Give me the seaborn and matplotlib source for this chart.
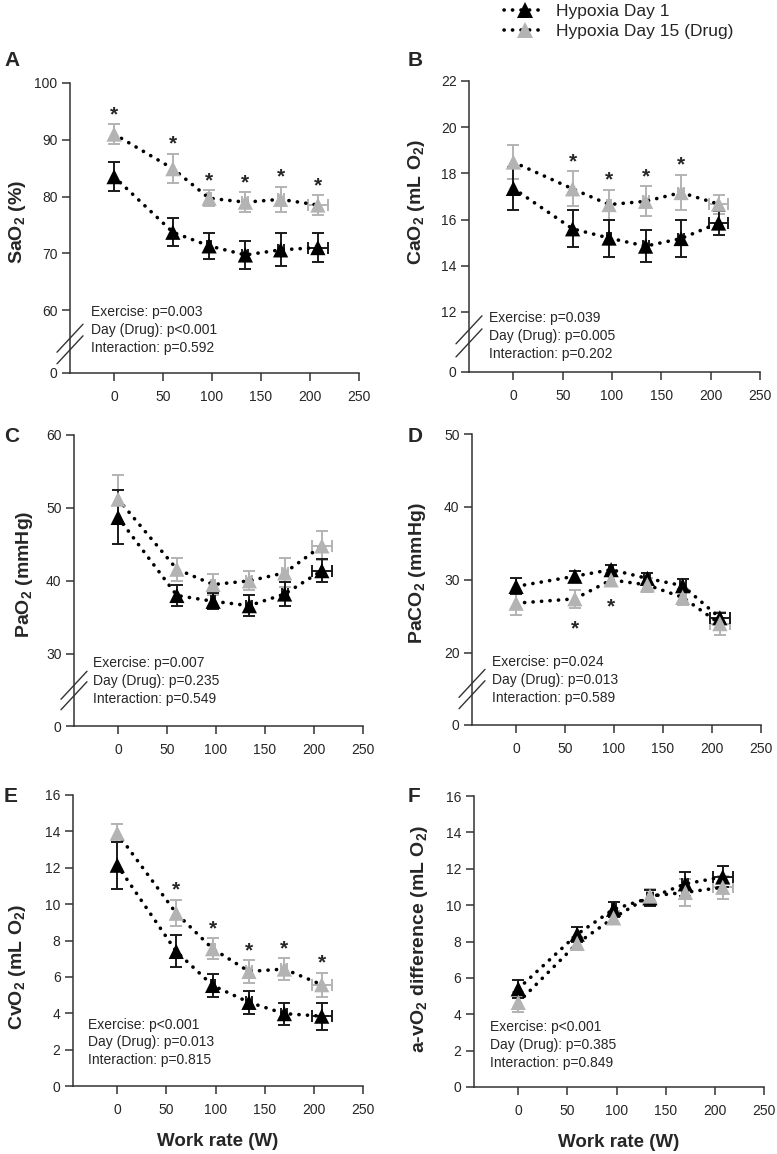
import matplotlib
matplotlib.use("Agg")
import matplotlib.pyplot as plt
import pandas as pd
import seaborn as sns
from matplotlib.lines import Line2D

# ---- data ----
work_rate = [0, 60, 97, 134, 170, 208]
xerr_wr = [0, 0, 2, 3, 3, 10]
groups = ["Hypoxia Day 1", "Hypoxia Day 15 (Drug)"]

sao2_d1 = [83.5, 73.7, 71.3, 69.7, 70.6, 71.0]
sao2_d1_err = [2.6, 2.5, 2.3, 2.5, 2.9, 2.6]
sao2_d15 = [91.0, 84.9, 79.7, 79.0, 79.5, 78.5]
sao2_d15_err = [1.75, 2.6, 1.4, 1.75, 2.2, 1.7]
sao2_stars = [0, 1, 2, 3, 4, 5]
sao2_p = ["p=0.003", "p<0.001", "p=0.592"]

cao2_d1 = [17.35, 15.6, 15.2, 14.85, 15.18, 15.85]
cao2_d1_err = [0.93, 0.8, 0.8, 0.69, 0.82, 0.5]
cao2_d15 = [18.49, 17.33, 16.65, 16.79, 17.17, 16.67]
cao2_d15_err = [0.72, 0.76, 0.65, 0.65, 0.77, 0.41]
cao2_stars = [1, 2, 3, 4]
cao2_p = ["p=0.039", "p=0.005", "p=0.202"]

pao2_d1 = [48.7, 38.0, 37.2, 36.6, 38.2, 41.4]
pao2_d1_err = [3.7, 1.5, 1.1, 1.4, 1.6, 1.6]
pao2_d15 = [51.2, 41.6, 39.5, 40.0, 41.1, 44.8]
pao2_d15_err = [3.3, 1.6, 1.4, 1.3, 2.0, 2.0]
pao2_stars = []
pao2_p = ["p=0.007", "p=0.235", "p=0.549"]

paco2_d1 = [29.1, 30.5, 31.4, 30.2, 29.2, 24.8]
paco2_d1_err = [1.1, 0.7, 0.7, 0.7, 0.9, 0.7]
paco2_d15 = [26.8, 27.4, 30.0, 29.3, 27.6, 24.0]
paco2_d15_err = [1.6, 1.25, 0.9, 0.9, 1.1, 1.6]
paco2_stars_below = [1, 2]
paco2_p = ["p=0.024", "p=0.013", "p=0.589"]

cvo2_d1 = [12.14, 7.4, 5.53, 4.6, 3.98, 3.84]
cvo2_d1_err = [1.3, 0.88, 0.63, 0.62, 0.6, 0.74]
cvo2_d15 = [13.9, 9.5, 7.55, 6.3, 6.43, 5.57]
cvo2_d15_err = [0.5, 0.73, 0.58, 0.62, 0.6, 0.66]
cvo2_stars = [1, 2, 3, 4, 5]
cvo2_p = ["p<0.001", "p=0.013", "p=0.815"]

avo2_d1 = [5.4, 8.4, 9.77, 10.4, 11.17, 11.55]
avo2_d1_err = [0.5, 0.4, 0.4, 0.45, 0.65, 0.58]
avo2_d15 = [4.65, 7.9, 9.3, 10.5, 10.7, 10.98]
avo2_d15_err = [0.55, 0.35, 0.35, 0.4, 0.75, 0.63]
avo2_p = ["p<0.001", "p=0.385", "p=0.849"]

# ---- style ----
sns.set_style("ticks")
plt.rcParams["font.family"] = ["Liberation Sans", "DejaVu Sans"]
plt.rcParams["mathtext.fontset"] = "custom"
plt.rcParams["mathtext.rm"] = "Liberation Sans"
plt.rcParams["mathtext.bf"] = "Liberation Sans:bold"

BLACK = "#000000"
GREY = "#b3b3b3"
DOTS = (0, (0.05, 2.3))

fig = plt.figure(figsize=(7.77, 11.54), dpi=100)
W, H = 777, 1154


def add_ax(left, right, bottom, top):
    return fig.add_axes([left / W, 1 - bottom / H, (right - left) / W, (bottom - top) / H])


def draw_panel(ax, d1, d1_err, d15, d15_err, ylim, yticks, ylabel, pvals,
               stars=(), stars_below=(), broken=True, label_xy=(-0.15, 0.52),
               ptext_xy=(0.07, 0.225), break_y=(0.10, 0.145)):
    df = pd.DataFrame({
        "work": work_rate * 2,
        "value": d1 + d15,
        "group": [groups[0]] * 6 + [groups[1]] * 6,
    })
    ax.errorbar(work_rate, d15, yerr=d15_err, xerr=xerr_wr, fmt="none", ecolor=GREY,
                elinewidth=1.4, capsize=4.5, capthick=1.4, zorder=2)
    ax.errorbar(work_rate, d1, yerr=d1_err, xerr=xerr_wr, fmt="none", ecolor="#1a1a1a",
                elinewidth=1.4, capsize=4.5, capthick=1.4, zorder=3)
    sns.lineplot(data=df, x="work", y="value", units="group", estimator=None,
                 color="black", linestyle=DOTS, linewidth=2.6, dash_capstyle="round",
                 ax=ax, zorder=4, legend=False)
    sns.scatterplot(data=df, x="work", y="value", hue="group",
                    palette={groups[0]: BLACK, groups[1]: GREY}, marker="^", s=120,
                    linewidth=0, ax=ax, zorder=5, legend=False)
    for i in stars:
        ax.annotate("*", xy=(work_rate[i], d15[i] + d15_err[i]), xytext=(0, 7),
                    textcoords="offset points", ha="center", va="center",
                    fontsize=15, fontweight="bold")
    for i in stars_below:
        ax.annotate("*", xy=(work_rate[i], d15[i] - d15_err[i]), xytext=(0, -15),
                    textcoords="offset points", ha="center", va="center",
                    fontsize=15, fontweight="bold")

    ax.set_xlim(-45, 250)
    ax.set_xticks([0, 50, 100, 150, 200, 250])
    ax.set_ylim(*ylim)
    if broken:
        ax.set_yticks([ylim[0]] + yticks)
        ax.set_yticklabels(["0"] + [str(t) for t in yticks])
    else:
        ax.set_yticks(yticks)
        ax.set_yticklabels([str(t) for t in yticks])
    ax.set_xlabel("")
    ax.set_ylabel(ylabel, fontsize=14, fontweight="bold")
    ax.yaxis.set_label_coords(*label_xy)
    ax.tick_params(axis="both", labelsize=10, length=6, width=1.1, color="#333333", pad=3)
    ax.tick_params(axis="x", pad=6)
    for side in ["top", "right"]:
        ax.spines[side].set_visible(False)
    for side in ["left", "bottom"]:
        ax.spines[side].set_color("#333333")
        ax.spines[side].set_linewidth(1.1)

    ax.text(ptext_xy[0], ptext_xy[1],
            "Exercise: " + pvals[0] + "\nDay (Drug): " + pvals[1] + "\nInteraction: " + pvals[2],
            transform=ax.transAxes, ha="left", va="top", fontsize=10, linespacing=1.35)

    if broken:
        bbox = ax.get_position()
        dx = 13 / (bbox.width * W)
        dy = 14 / (bbox.height * H)
        for yb in break_y:
            ax.plot([-dx, dx], [yb - dy, yb + dy], transform=ax.transAxes,
                    color="#333333", lw=1.0, clip_on=False, zorder=6)


axA = add_ax(70, 359, 373, 83)
draw_panel(axA, sao2_d1, sao2_d1_err, sao2_d15, sao2_d15_err, (48.9, 100),
           [60, 70, 80, 90, 100], r"SaO$_\mathbf{2}$ (%)", sao2_p, stars=sao2_stars,
           label_xy=(-0.145, 0.52), ptext_xy=(0.072, 0.235), break_y=(0.08, 0.12))

axB = add_ax(469, 760, 372, 81)
draw_panel(axB, cao2_d1, cao2_d1_err, cao2_d15, cao2_d15_err, (9.4, 22),
           [12, 14, 16, 18, 20, 22], r"CaO$_\mathbf{2}$ (mL O$_\mathbf{2}$)", cao2_p,
           stars=cao2_stars, label_xy=(-0.144, 0.585), ptext_xy=(0.069, 0.21),
           break_y=(0.10, 0.145))

axC = add_ax(74, 363, 726, 435)
draw_panel(axC, pao2_d1, pao2_d1_err, pao2_d15, pao2_d15_err, (20.1, 60),
           [30, 40, 50, 60], r"PaO$_\mathbf{2}$ (mmHg)", pao2_p,
           label_xy=(-0.135, 0.52), ptext_xy=(0.066, 0.24), break_y=(0.104, 0.14))

axD = add_ax(472, 761, 725, 434)
draw_panel(axD, paco2_d1, paco2_d1_err, paco2_d15, paco2_d15_err, (10.1, 50),
           [20, 30, 40, 50], r"PaCO$_\mathbf{2}$ (mmHg)", paco2_p,
           stars_below=paco2_stars_below, label_xy=(-0.152, 0.52),
           ptext_xy=(0.069, 0.24), break_y=(0.104, 0.143))

axE = add_ax(73, 363, 1086, 795)
draw_panel(axE, cvo2_d1, cvo2_d1_err, cvo2_d15, cvo2_d15_err, (0, 16),
           [0, 2, 4, 6, 8, 10, 12, 14, 16], r"CvO$_\mathbf{2}$ (mL O$_\mathbf{2}$)", cvo2_p,
           stars=cvo2_stars, broken=False, label_xy=(-0.155, 0.41),
           ptext_xy=(0.052, 0.235))

axF = add_ax(474, 764, 1087, 796)
draw_panel(axF, avo2_d1, avo2_d1_err, avo2_d15, avo2_d15_err, (0, 16),
           [0, 2, 4, 6, 8, 10, 12, 14, 16], r"a-vO$_\mathbf{2}$ difference (mL O$_\mathbf{2}$)",
           avo2_p, broken=False, label_xy=(-0.152, 0.51), ptext_xy=(0.055, 0.23))

for ax in (axE, axF):
    ax.set_xlabel("Work rate (W)", fontsize=13.5, fontweight="bold", labelpad=12)

# panel letters
for letter, x, y in [("A", 4, 61), ("B", 408, 61), ("C", 4, 437),
                     ("D", 408, 437), ("E", 4, 796), ("F", 408, 796)]:
    fig.text(x / W, 1 - y / H, letter, fontsize=15, fontweight="bold",
             ha="left", va="center")

# legend
handles = [
    Line2D([0], [0], color="black", linestyle=DOTS, linewidth=2.6, dash_capstyle="round",
           marker="^", markersize=11, markerfacecolor=BLACK, markeredgewidth=0),
    Line2D([0], [0], color="black", linestyle=DOTS, linewidth=2.6, dash_capstyle="round",
           marker="^", markersize=11, markerfacecolor=GREY, markeredgewidth=0),
]
fig.legend(handles, groups, loc="upper left", bbox_to_anchor=(502 / W, 1 - 2 / H),
           frameon=False, fontsize=12.5, handlelength=2.4, handletextpad=0.6,
           labelspacing=0.3, borderpad=0.1, borderaxespad=0)

fig.savefig("out.png", dpi=100)
